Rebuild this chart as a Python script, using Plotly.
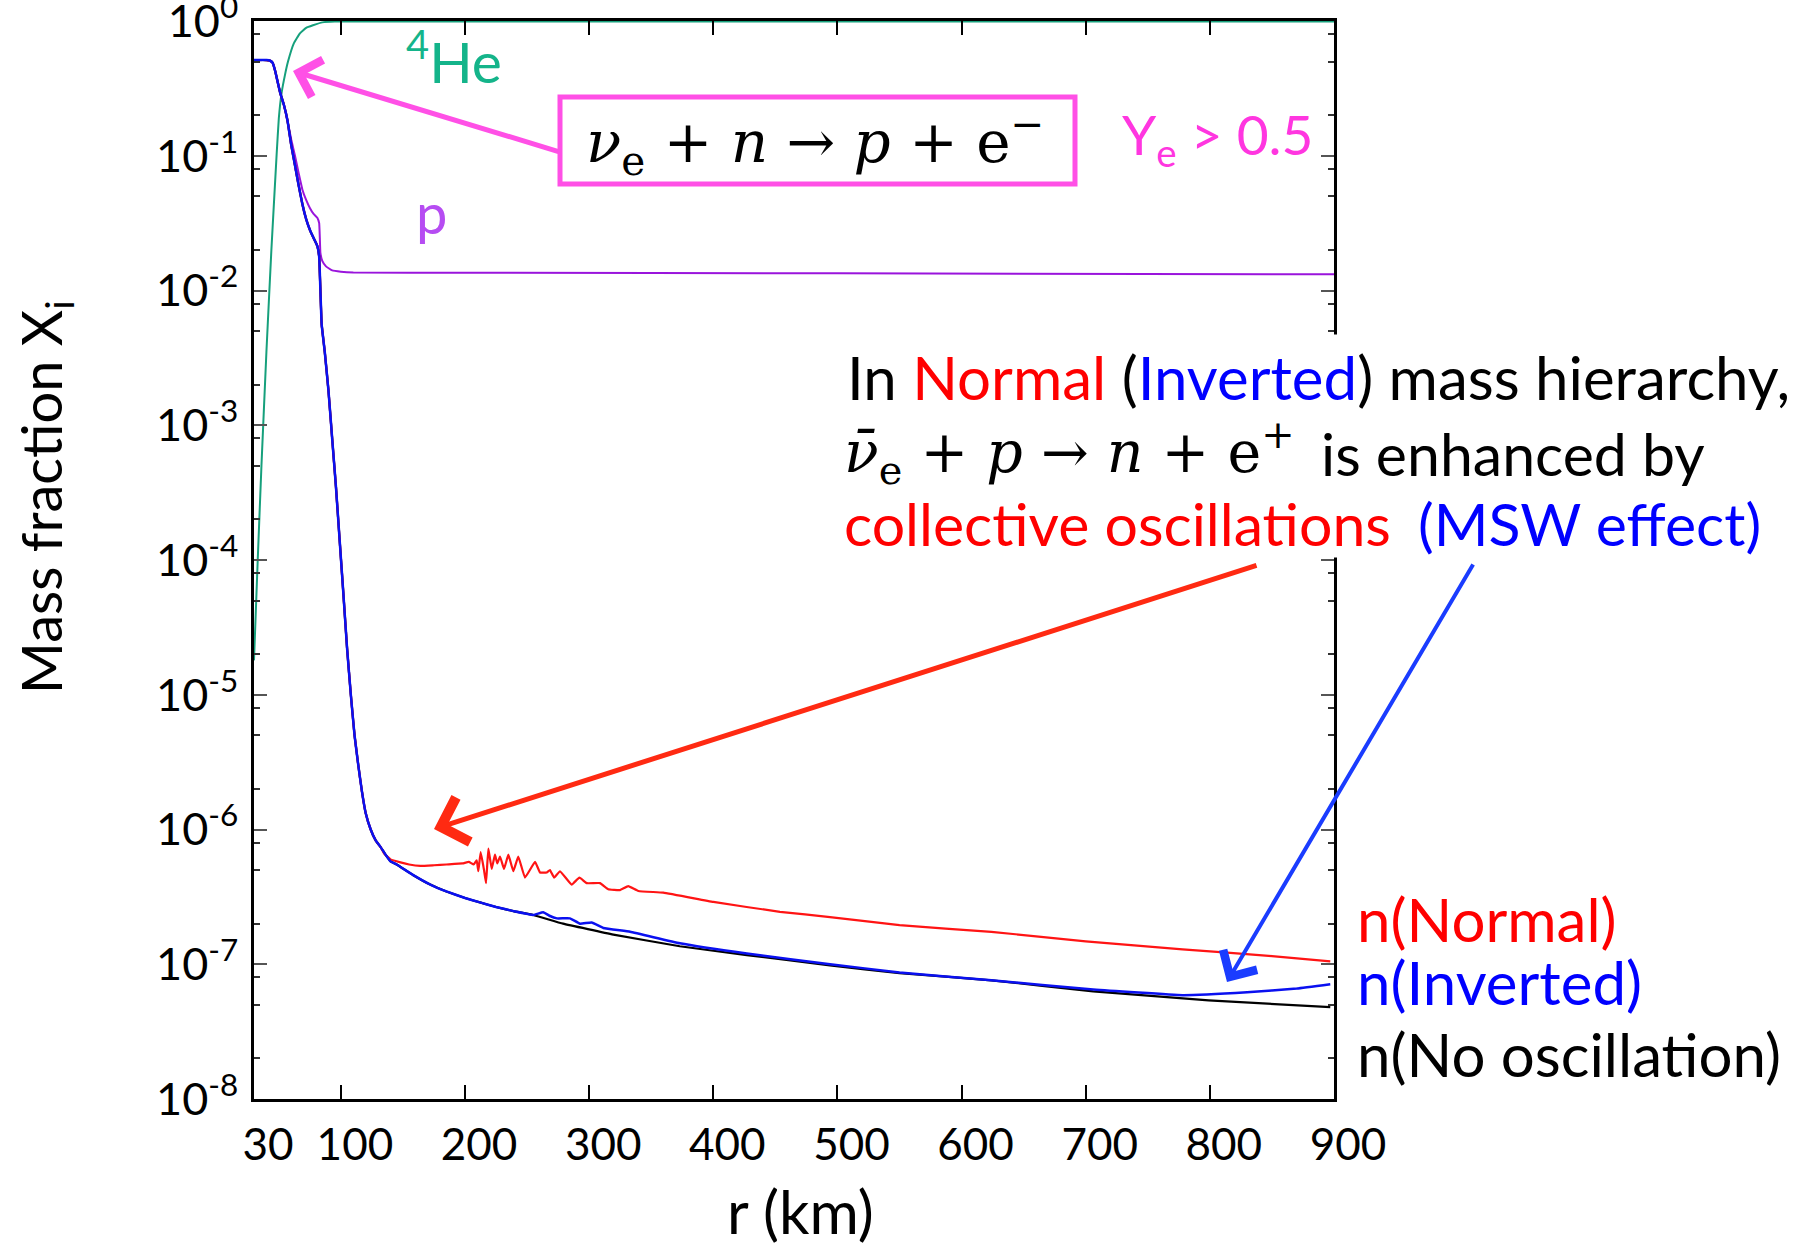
import plotly.graph_objects as go

# ---------------- data: mass fractions X_i versus radius r (km) ----------------
# 4He
r_he = [30, 33, 36, 40, 44, 48.3, 50, 52.3, 55, 57.4, 62, 67, 72, 77.5, 85, 95, 200, 500, 900]
x_he = [1.8e-5, 1.0e-4, 5.0e-4, 3.5e-3, 2.0e-2, 0.105, 0.19, 0.295, 0.40, 0.50,
        0.68, 0.81, 0.89, 0.93, 0.977, 0.991, 0.991, 0.991, 0.991]

# protons
r_p = [30, 40, 43, 45, 47, 49, 51, 54, 57, 60, 63, 66, 69, 72, 75, 78, 81, 82.5, 83,
       83.5, 85, 88, 93, 100, 110, 200, 500, 900]
x_p = [0.513, 0.513, 0.507, 0.49, 0.427, 0.355, 0.295, 0.24, 0.182, 0.132, 0.10, 0.074,
       0.056, 0.047, 0.041, 0.037, 0.0347, 0.0316, 0.025, 0.019, 0.0166, 0.0151, 0.0141,
       0.0138, 0.0136, 0.01355, 0.0134, 0.0132]

# neutrons: part common to all three oscillation scenarios
r_n_common = [30, 40, 43, 45, 47, 49, 51, 54, 57, 60, 63, 66, 69, 72, 75, 78, 81, 82.5,
              83.5, 84.5, 87, 90, 93, 96, 99, 102, 105, 108, 111, 114, 117, 120, 124, 128, 132]
x_n_common = [0.513, 0.513, 0.507, 0.49, 0.427, 0.355, 0.295, 0.24, 0.182, 0.12, 0.085,
              0.060, 0.0437, 0.0339, 0.0282, 0.0245, 0.0214, 0.0178, 0.010, 5.6e-3, 3.5e-3,
              1.8e-3, 7.9e-4, 3.5e-4, 1.4e-4, 5.6e-5, 2.2e-5, 1.0e-5, 5.0e-6, 3.0e-6,
              1.9e-6, 1.32e-6, 1.0e-6, 8.3e-7, 7.4e-7]

# neutrons without oscillation (also shared by the inverted case up to 255 km)
r_n_noosc = [136, 140, 145, 158, 172, 185, 200, 212, 225, 239, 255, 279, 319.5, 373, 427,
             494, 550, 624, 706, 799, 897]
x_n_noosc = [6.5e-7, 5.8e-7, 5.5e-7, 4.6e-7, 3.9e-7, 3.47e-7, 3.1e-7, 2.88e-7, 2.66e-7,
             2.48e-7, 2.32e-7, 2.0e-7, 1.66e-7, 1.36e-7, 1.17e-7, 9.8e-8, 8.6e-8, 7.6e-8,
             6.3e-8, 5.4e-8, 4.8e-8]

# neutrons, inverted hierarchy (after departing from the no-oscillation curve)
r_n_inv = [263, 268, 274, 284.5, 292.6, 302, 311.4, 333, 373, 427, 494, 550, 624, 706,
           778, 830, 870, 897]
x_n_inv = [2.43e-7, 2.29e-7, 2.19e-7, 2.19e-7, 2.0e-7, 2.04e-7, 1.86e-7, 1.74e-7, 1.43e-7,
           1.2e-7, 1.0e-7, 8.7e-8, 7.6e-8, 6.5e-8, 5.9e-8, 6.2e-8, 6.6e-8, 7.1e-8]

# neutrons, normal hierarchy (collective oscillations)
r_n_norm = [135, 140, 148, 155, 164, 175, 185, 198, 203, 207, 209.4, 210.7, 212.6, 215.3,
            216.9, 218.8, 221.5, 224.1, 226, 228.2, 231.4, 234.9, 238.9, 242.9, 248.3,
            256.4, 260.4, 265.8, 268.4, 271.7, 276.5, 285.9, 292.1, 298, 308.7, 315.4,
            324.8, 331.5, 339.6, 359.7, 400, 453.7, 494, 550, 624, 700, 778, 850, 897]
x_n_norm = [6.6e-7, 6.0e-7, 5.7e-7, 5.5e-7, 5.37e-7, 5.43e-7, 5.5e-7, 5.6e-7, 5.75e-7,
            5.5e-7, 5.9e-7, 4.9e-7, 6.8e-7, 5.0e-7, 4.0e-7, 7.2e-7, 5.1e-7, 6.5e-7,
            5.6e-7, 6.3e-7, 5.1e-7, 6.5e-7, 4.9e-7, 6.3e-7, 4.4e-7, 5.75e-7, 4.8e-7,
            4.8e-7, 5.0e-7, 4.4e-7, 4.9e-7, 3.9e-7, 4.4e-7, 4.0e-7, 4.0e-7, 3.6e-7,
            3.55e-7, 3.8e-7, 3.5e-7, 3.4e-7, 2.9e-7, 2.45e-7, 2.24e-7, 1.95e-7, 1.74e-7,
            1.48e-7, 1.29e-7, 1.15e-7, 1.05e-7]

x_ticks = [30, 100, 200, 300, 400, 500, 600, 700, 800, 900]
y_exponents = [-8, -7, -6, -5, -4, -3, -2, -1, 0]
y_minor_mantissas = [2, 5, 8]

# ---------------- figure ----------------
W, H = 1801, 1248
L, R, T, B = 254, 1334, 21, 1099  # plot area in pixels

FONT = "Lato, 'Open Sans', sans-serif"
SERIF = "'DejaVu Serif', 'Liberation Serif', serif"

C_HE_LINE = "#16a07c"
C_HE_TEXT = "#14b48a"
C_P_LINE = "#9a14dc"
C_P_TEXT = "#b64cf2"
C_RED = "#ff1414"
C_BLUE = "#0a10f0"
C_PINK = "#ff50e6"

noosc_r = r_n_common + r_n_noosc
noosc_x = x_n_common + x_n_noosc
split = r_n_noosc.index(255) + 1
inv_r = r_n_common + r_n_noosc[:split] + r_n_inv
inv_x = x_n_common + x_n_noosc[:split] + x_n_inv
norm_r = r_n_common + r_n_norm
norm_x = x_n_common + x_n_norm


def curve(xs, ys, color, width, name):
    return go.Scatter(x=xs, y=ys, mode="lines", name=name,
                      line=dict(color=color, width=width, shape="spline", smoothing=0.3))


fig = go.Figure()
fig.add_trace(curve(r_he, x_he, C_HE_LINE, 2, "4He"))
fig.add_trace(curve(r_p, x_p, C_P_LINE, 2, "p"))
fig.add_trace(curve(noosc_r, noosc_x, "black", 2.2, "n(No oscillation)"))
fig.add_trace(curve(norm_r, norm_x, C_RED, 2.2, "n(Normal)"))
fig.add_trace(curve(inv_r, inv_x, C_BLUE, 2.5, "n(Inverted)"))


def px(X):
    return (X - L) / (R - L)


def py(Y):
    return (B - Y) / (B - T)


def label(text, X, Y, size, color="black", xanchor="center", family=FONT, angle=0):
    fig.add_annotation(text=text, x=px(X), y=py(Y), xref="paper", yref="paper",
                       xanchor=xanchor, yanchor="middle", showarrow=False, textangle=angle,
                       font=dict(family=family, size=size, color=color))


def arrow(head, tail, color, width, size=1.5):
    fig.add_annotation(text="", x=px(head[0]), y=py(head[1]), xref="paper", yref="paper",
                       ax=tail[0] - head[0], ay=tail[1] - head[1], showarrow=True,
                       arrowhead=4, arrowsize=size, arrowwidth=width, arrowcolor=color, standoff=0)


# white backing behind the text block, hiding the right axis there
fig.add_annotation(text="&nbsp;", x=px(1327), y=py(446), xref="paper", yref="paper",
                   xanchor="center", yanchor="middle", showarrow=False,
                   width=70, height=222, bgcolor="white", borderpad=0)

# species labels
label("<sup>4</sup>He", 454, 57, 57, C_HE_TEXT)
label("p", 431, 212, 56, C_P_TEXT)

# reaction box
fig.add_shape(type="rect", xref="paper", yref="paper", x0=px(560), x1=px(1075), y0=py(184), y1=py(97),
              line=dict(color=C_PINK, width=5))
label("<i>ν</i><sub>e</sub> + <i>n</i> → <i>p</i> + e<sup>−</sup>", 815, 143, 58, "black", family=SERIF)
label("Y<sub>e</sub> &gt; 0.5", 1120, 138, 55, "#ff36e0", xanchor="left")
arrow((293, 71), (560, 152), C_PINK, 5, 1.5)

# explanatory text
label("In <span style='color:#ff0000'>Normal</span> (<span style='color:#0000ff'>Inverted</span>) mass hierarchy,",
      845, 377, 60, xanchor="left")
label("<i>ν̄</i><sub>e</sub> + <i>p</i> → <i>n</i> + e<sup>+</sup>", 842, 452, 57, family=SERIF, xanchor="left")
label("is enhanced by", 1319, 454, 59, xanchor="left")
label("collective oscillations", 842, 523, 59, "#ff0000", xanchor="left")
label("(MSW effect)", 1416, 523, 59, "#0000ff", xanchor="left")
arrow((434, 829), (1258, 565), "#ff2a12", 5, 1.8)
arrow((1227, 982), (1474, 563), "#1a3cff", 4, 1.9)

# curve labels
label("n(Normal)", 1355, 919, 60, "#ff0000", xanchor="left")
label("n(Inverted)", 1355, 982, 60, "#0000ff", xanchor="left")
label("n(No oscillation)", 1355, 1054, 60, "black", xanchor="left")

# axis titles
label("Mass fraction X<sub>i</sub>", 44, 497, 56, angle=-90)
label("r (km)", 800, 1211, 60)

y_tickvals = [10.0 ** e for e in y_exponents]
y_ticktext = ["10<sup>%d</sup>" % e for e in y_exponents]
y_minor = [m * 10.0 ** e for e in y_exponents[:-1] for m in y_minor_mantissas]

fig.update_xaxes(range=[30, 900], tickmode="array", tickvals=x_ticks,
                 ticktext=[str(v) for v in x_ticks], ticks="inside", ticklen=14, tickwidth=1.5,
                 tickcolor="black", showline=True, linecolor="black", linewidth=2.5, mirror="ticks",
                 showgrid=False, zeroline=False, ticklabelshift=14, ticklabelstandoff=5,
                 ticklabeloverflow="allow", automargin=False,
                 tickfont=dict(family=FONT, size=44, color="black"))
fig.update_yaxes(type="log", range=[-8, 0], tickmode="array", tickvals=y_tickvals,
                 ticktext=y_ticktext, ticks="inside", ticklen=13, tickwidth=1.5, tickcolor="#555555",
                 showline=True, linecolor="black", linewidth=2.5, mirror="ticks",
                 showgrid=False, zeroline=False, ticklabelstandoff=4, ticklabeloverflow="allow",
                 automargin=False,
                 minor=dict(tickmode="array", tickvals=y_minor, ticks="inside", ticklen=6,
                            tickwidth=1.5, tickcolor="#333333", showgrid=False),
                 tickfont=dict(family=FONT, size=45, color="black"))

fig.update_layout(width=W, height=H, autosize=False,
                  margin=dict(l=L, r=W - R, t=T, b=H - B, pad=0, autoexpand=False),
                  paper_bgcolor="white", plot_bgcolor="white", showlegend=False,
                  font=dict(family=FONT))

fig.write_html("out.html")
